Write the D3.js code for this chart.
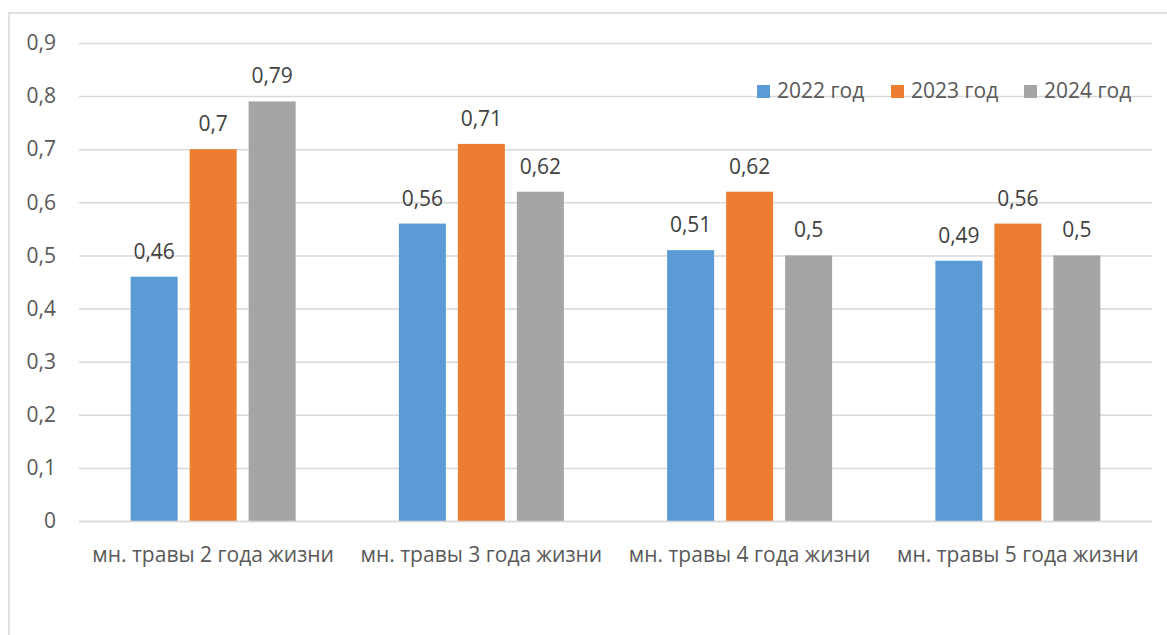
<!DOCTYPE html>
<html>
<head>
<meta charset="utf-8">
<script src="https://cdn.jsdelivr.net/npm/d3@7"></script>
<style>
  html, body { margin: 0; padding: 0; background: #fff; }
  svg { display: block; font-family: "Open Sans", "Noto Sans", sans-serif; }
</style>
</head>
<body>
<svg id="chart" width="1167" height="635"></svg>
<script>
// Categories, series and ticks
const categories = ["мн. травы 2 года жизни", "мн. травы 3 года жизни", "мн. травы 4 года жизни", "мн. травы 5 года жизни"];
const seriesNames = ["2022 год", "2023 год", "2024 год"];
const seriesColors = ["#5b9bd5", "#ed7d31", "#a5a5a5"];
const values2022 = [0.46, 0.56, 0.51, 0.49];
const values2023 = [0.7, 0.71, 0.62, 0.56];
const values2024 = [0.79, 0.62, 0.5, 0.5];
const yTicks = [0, 0.1, 0.2, 0.3, 0.4, 0.5, 0.6, 0.7, 0.8, 0.9];

const seriesValues = [values2022, values2023, values2024];
const fmt = v => String(v).replace(".", ",");

const svg = d3.select("#chart");
const textColor = "#595959";
const labelColor = "#404040";
const gridColor = "#d9d9d9";
const fontFamily = "'Open Sans', 'Noto Sans', sans-serif";
const fontSize = 21;

// outer frame (runs past the right and bottom edges)
svg.append("rect")
  .attr("x", 9).attr("y", 13)
  .attr("width", 1200).attr("height", 700)
  .attr("fill", "#fff").attr("stroke", gridColor).attr("stroke-width", 1.6);

const plot = { left: 79, right: 1152, top: 43, bottom: 521 };

const x0 = d3.scaleBand()
  .domain(categories)
  .range([plot.left, plot.right])
  .paddingInner(0).paddingOuter(0);

const innerSpan = 165; // width taken by the three bars of one group
const x1 = d3.scaleBand()
  .domain(seriesNames)
  .range([(x0.bandwidth() - innerSpan) / 2, (x0.bandwidth() + innerSpan) / 2])
  .paddingInner(12 / 59);

const y = d3.scaleLinear().domain([0, 0.9]).range([plot.bottom, plot.top]);

// gridlines and value axis labels
const yAxis = d3.axisLeft(y)
  .tickValues(yTicks)
  .tickSize(-(plot.right - plot.left))
  .tickPadding(23)
  .tickFormat(fmt);

const gy = svg.append("g")
  .attr("transform", `translate(${plot.left},0)`)
  .call(yAxis)
  .attr("font-size", fontSize)
  .attr("font-family", fontFamily);
gy.select(".domain").remove();
gy.selectAll(".tick line").attr("stroke", gridColor).attr("stroke-width", 1.5);
gy.selectAll(".tick text").attr("fill", textColor);

// bars
const groups = svg.append("g").selectAll("g")
  .data(categories)
  .join("g")
  .attr("transform", d => `translate(${x0(d)},0)`);

const cells = (d, i) => seriesNames.map((s, j) => ({ s, j, v: seriesValues[j][i] }));

groups.selectAll("rect")
  .data(cells)
  .join("rect")
  .attr("x", d => x1(d.s))
  .attr("y", d => y(d.v))
  .attr("width", x1.bandwidth())
  .attr("height", d => y(0) - y(d.v))
  .attr("fill", d => seriesColors[d.j]);

// value labels
groups.selectAll("text.val")
  .data(cells)
  .join("text")
  .attr("class", "val")
  .attr("x", d => x1(d.s) + x1.bandwidth() / 2)
  .attr("y", d => y(d.v) - 18)
  .attr("text-anchor", "middle")
  .attr("fill", labelColor)
  .attr("font-size", fontSize)
  .attr("font-family", fontFamily)
  .text(d => fmt(d.v));

// category axis
const xAxis = d3.axisBottom(x0).tickSize(0).tickPadding(26);
const gx = svg.append("g")
  .attr("transform", `translate(0,${plot.bottom})`)
  .call(xAxis)
  .attr("font-size", fontSize)
  .attr("font-family", fontFamily);
gx.select(".domain").attr("stroke", gridColor).attr("stroke-width", 1.5);
gx.selectAll(".tick text").attr("fill", textColor);

// legend
const legendPos = [757, 891, 1024];
const legend = svg.append("g").selectAll("g")
  .data(seriesNames)
  .join("g")
  .attr("transform", (d, i) => `translate(${legendPos[i]},85)`);

legend.append("rect")
  .attr("width", 13).attr("height", 13)
  .attr("fill", (d, i) => seriesColors[i]);

legend.append("text")
  .attr("x", 20).attr("y", 13)
  .attr("fill", textColor)
  .attr("font-size", fontSize)
  .attr("font-family", fontFamily)
  .text(d => d);
</script>
</body>
</html>
